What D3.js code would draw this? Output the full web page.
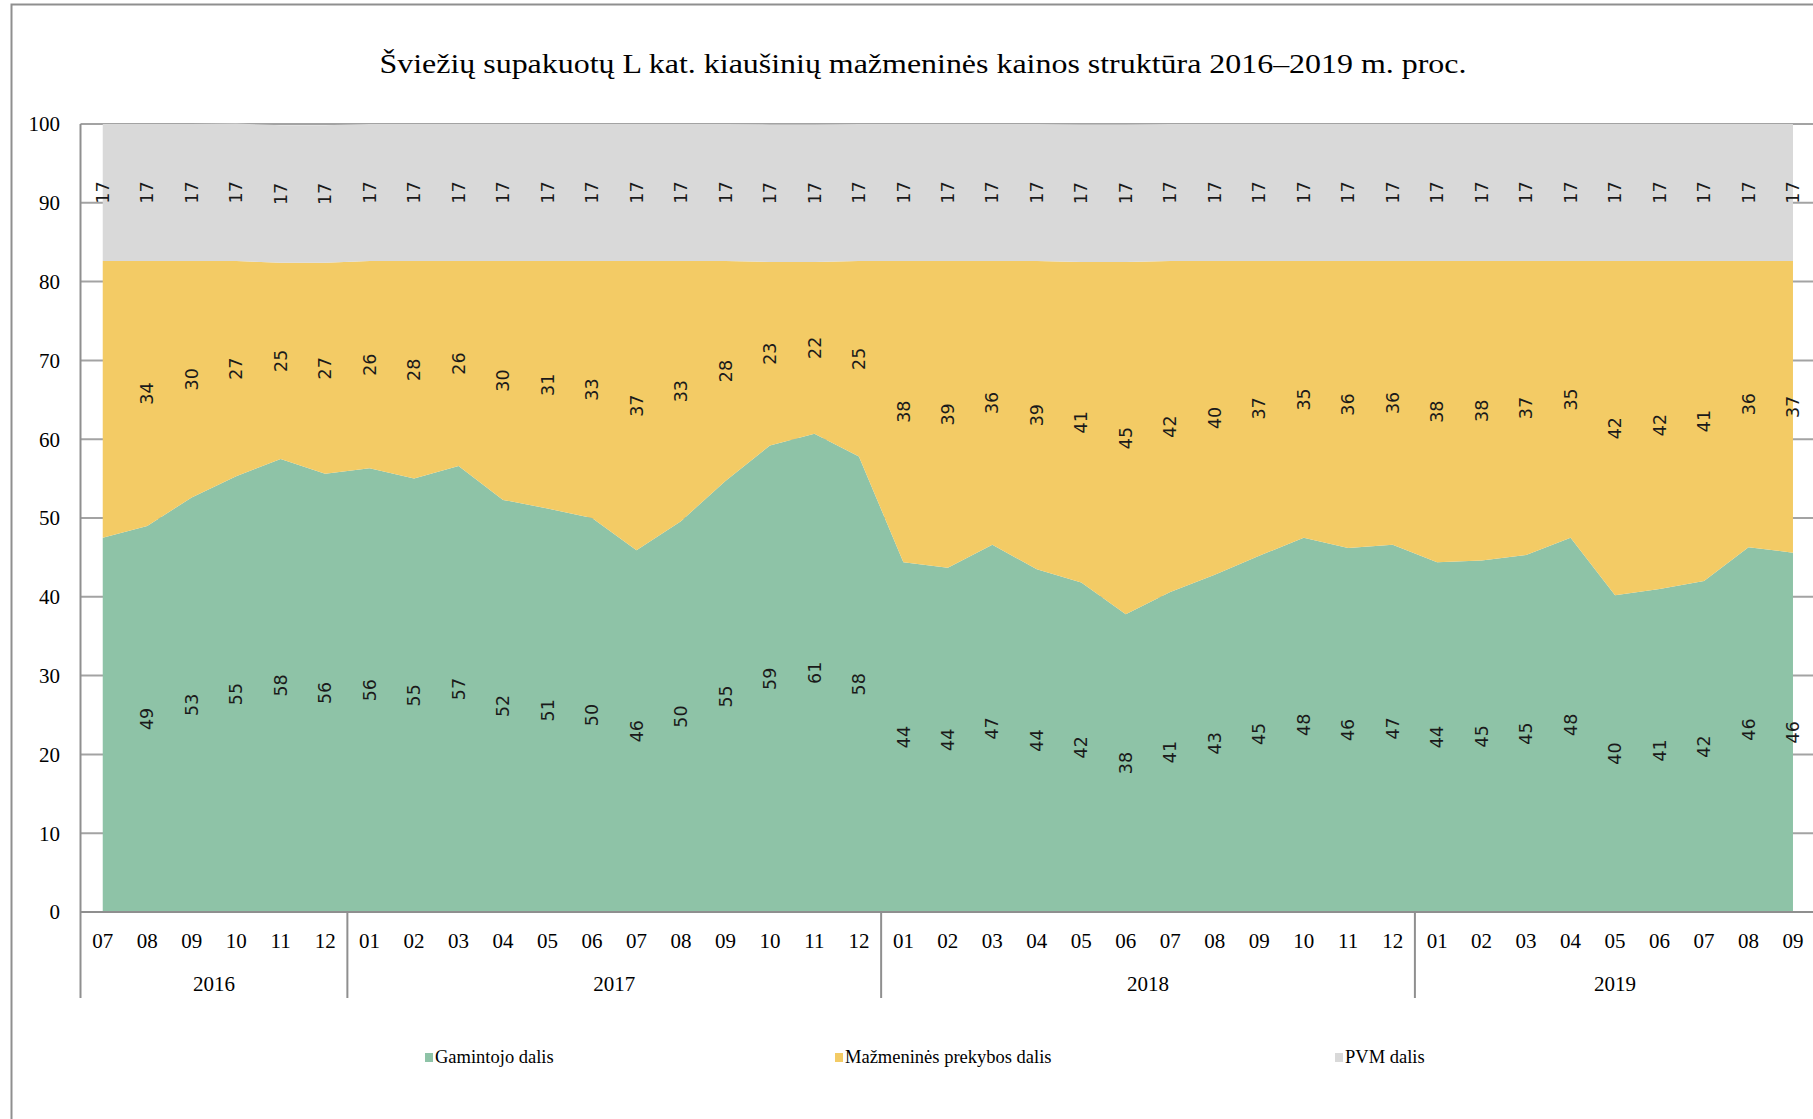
<!DOCTYPE html>
<html>
<head>
<meta charset="utf-8">
<script src="https://cdn.jsdelivr.net/npm/d3@7"></script>
<style>
  body { margin: 0; background: #fff; overflow: hidden; }
  svg { display: block; }
</style>
</head>
<body>
<script>
  // categories (year-month)
  var categories = [
    "2016-07","2016-08","2016-09","2016-10","2016-11","2016-12",
    "2017-01","2017-02","2017-03","2017-04","2017-05","2017-06","2017-07","2017-08","2017-09","2017-10","2017-11","2017-12",
    "2018-01","2018-02","2018-03","2018-04","2018-05","2018-06","2018-07","2018-08","2018-09","2018-10","2018-11","2018-12",
    "2019-01","2019-02","2019-03","2019-04","2019-05","2019-06","2019-07","2019-08","2019-09"
  ];

  // Gamintojo dalis
  var producer = [
    47.5, 49.0, 52.6, 55.3, 57.5, 55.6,
    56.3, 55.0, 56.6, 52.3, 51.2, 50.0, 45.9, 49.6, 54.7, 59.2, 60.7, 57.8,
    44.4, 43.7, 46.6, 43.5, 41.8, 37.8, 40.6, 42.8, 45.2, 47.5, 46.2, 46.6,
    44.4, 44.6, 45.3, 47.5, 40.2, 41.0, 42.0, 46.3, 45.6
  ];

  // Mažmeninės prekybos dalis
  var retail = [
    35.1, 33.6, 30.0, 27.3, 24.9, 26.8,
    26.3, 27.6, 26.0, 30.3, 31.4, 32.6, 36.7, 33.0, 27.9, 23.3, 21.8, 24.8,
    38.2, 38.9, 36.0, 39.1, 40.7, 44.7, 42.0, 39.8, 37.4, 35.1, 36.4, 36.0,
    38.2, 38.0, 37.3, 35.1, 42.4, 41.6, 40.6, 36.3, 37.0
  ];

  // PVM dalis
  var vat = [
    17.4, 17.4, 17.4, 17.45, 17.45, 17.45,
    17.4, 17.4, 17.4, 17.4, 17.4, 17.4, 17.4, 17.4, 17.4, 17.45, 17.45, 17.4,
    17.4, 17.4, 17.4, 17.4, 17.45, 17.45, 17.4, 17.4, 17.4, 17.4, 17.4, 17.4,
    17.4, 17.4, 17.4, 17.4, 17.4, 17.4, 17.4, 17.4, 17.4
  ];

  var seriesNames = ["Gamintojo dalis", "Mažmeninės prekybos dalis", "PVM dalis"];
  var seriesColors = ["#8ec3a7", "#f3cb65", "#d9d9d9"];
  var yTicks = [0, 10, 20, 30, 40, 50, 60, 70, 80, 90, 100];

  var title = "Šviežių supakuotų L kat. kiaušinių mažmeninės kainos struktūra 2016–2019 m. proc.";

  var W = 1813, H = 1119;
  var plotLeft = 80.5, step = 44.48, plotTop = 124, plotBottom = 912;
  var serif = "'Liberation Serif', 'Times New Roman', serif";
  var axisGray = "#8f8f8f";

  var svg = d3.select("body").append("svg")
      .attr("width", W)
      .attr("height", H);

  // outer frame
  svg.append("path")
    .attr("d", "M11.5," + H + "V4.5H" + W)
    .attr("fill", "none")
    .attr("stroke", axisGray)
    .attr("stroke-width", 2);

  // title
  svg.append("text")
    .attr("x", 923).attr("y", 73)
    .attr("text-anchor", "middle")
    .attr("font-family", serif)
    .attr("font-size", 28)
    .attr("textLength", 1087)
    .attr("lengthAdjust", "spacingAndGlyphs")
    .attr("fill", "#000")
    .text(title);

  var x = d3.scaleBand()
    .domain(categories)
    .range([plotLeft, plotLeft + step * categories.length])
    .padding(0);
  var y = d3.scaleLinear().domain([0, 100]).range([plotBottom, plotTop]);
  var cx = function(c) { return x(c) + x.bandwidth() / 2; };

  // gridlines (hidden behind the areas, visible at the edges)
  svg.append("g").selectAll("line")
    .data(yTicks.filter(function(t) { return t > 0; }))
    .enter().append("line")
      .attr("x1", plotLeft).attr("x2", x.range()[1])
      .attr("y1", function(d) { return y(d); })
      .attr("y2", function(d) { return y(d); })
      .attr("stroke", "#a3a3a3")
      .attr("stroke-width", 2);

  // stacked data
  var table = categories.map(function(c, i) {
    return { cat: c, p: producer[i], r: retail[i], v: vat[i] };
  });
  var stack = d3.stack().keys(["p", "r", "v"]);
  var layers = stack(table);

  var area = d3.area()
    .x(function(d) { return cx(d.data.cat); })
    .y0(function(d) { return y(d[0]); })
    .y1(function(d) { return y(d[1]); });

  svg.append("g").selectAll("path")
    .data(layers)
    .enter().append("path")
      .attr("d", area)
      .attr("fill", function(d, i) { return seriesColors[i]; });

  // y axis labels
  svg.append("g").selectAll("text")
    .data(yTicks)
    .enter().append("text")
      .attr("x", 60)
      .attr("y", function(d) { return y(d); })
      .attr("dy", "0.35em")
      .attr("text-anchor", "end")
      .attr("font-family", serif)
      .attr("font-size", 21)
      .text(function(d) { return d; });

  // axes lines
  svg.append("line")
    .attr("x1", plotLeft).attr("x2", W)
    .attr("y1", plotBottom).attr("y2", plotBottom)
    .attr("stroke", axisGray).attr("stroke-width", 2);
  svg.append("line")
    .attr("x1", plotLeft).attr("x2", plotLeft)
    .attr("y1", plotTop).attr("y2", 998)
    .attr("stroke", axisGray).attr("stroke-width", 2);

  // month labels
  svg.append("g").selectAll("text")
    .data(categories)
    .enter().append("text")
      .attr("x", cx)
      .attr("y", 948)
      .attr("text-anchor", "middle")
      .attr("font-family", serif)
      .attr("font-size", 21)
      .text(function(d) { return d.split("-")[1]; });

  // year groups
  var years = d3.groups(categories, function(d) { return d.split("-")[0]; });
  var yg = svg.append("g");
  years.forEach(function(g, i) {
    var first = g[1][0], last = g[1][g[1].length - 1];
    var x0 = x(first), x1 = x(last) + x.bandwidth();
    if (i > 0) {
      yg.append("line")
        .attr("x1", x0).attr("x2", x0)
        .attr("y1", plotBottom).attr("y2", 998)
        .attr("stroke", axisGray).attr("stroke-width", 2);
    }
    yg.append("text")
      .attr("x", (x0 + x1) / 2)
      .attr("y", 991)
      .attr("text-anchor", "middle")
      .attr("font-family", serif)
      .attr("font-size", 21)
      .text(g[0]);
  });

  // data labels, rotated, at the middle of each band
  var lg = svg.append("g");
  layers.forEach(function(layer, li) {
    layer.forEach(function(d, i) {
      if (i === 0 && li < 2) return; // no labels on the first month for these two series
      var val = d[1] - d[0];
      var px = cx(d.data.cat), py = y((d[0] + d[1]) / 2);
      lg.append("text")
        .attr("transform", "translate(" + px + "," + py + ") rotate(-90)")
        .attr("text-anchor", "middle")
        .attr("dy", "0.35em")
        .attr("font-family", "'DejaVu Sans', sans-serif")
        .attr("font-size", 17.5)
        .attr("fill", "#1a1a1a")
        .text(Math.round(val));
    });
  });

  // legend
  var legendX = [425, 835, 1335];
  var leg = svg.append("g");
  seriesNames.forEach(function(name, i) {
    leg.append("rect")
      .attr("x", legendX[i]).attr("y", 1053)
      .attr("width", 8).attr("height", 9)
      .attr("fill", seriesColors[i]);
    leg.append("text")
      .attr("x", legendX[i] + 10).attr("y", 1063)
      .attr("font-family", serif)
      .attr("font-size", 18.5)
      .text(name);
  });
</script>
</body>
</html>
